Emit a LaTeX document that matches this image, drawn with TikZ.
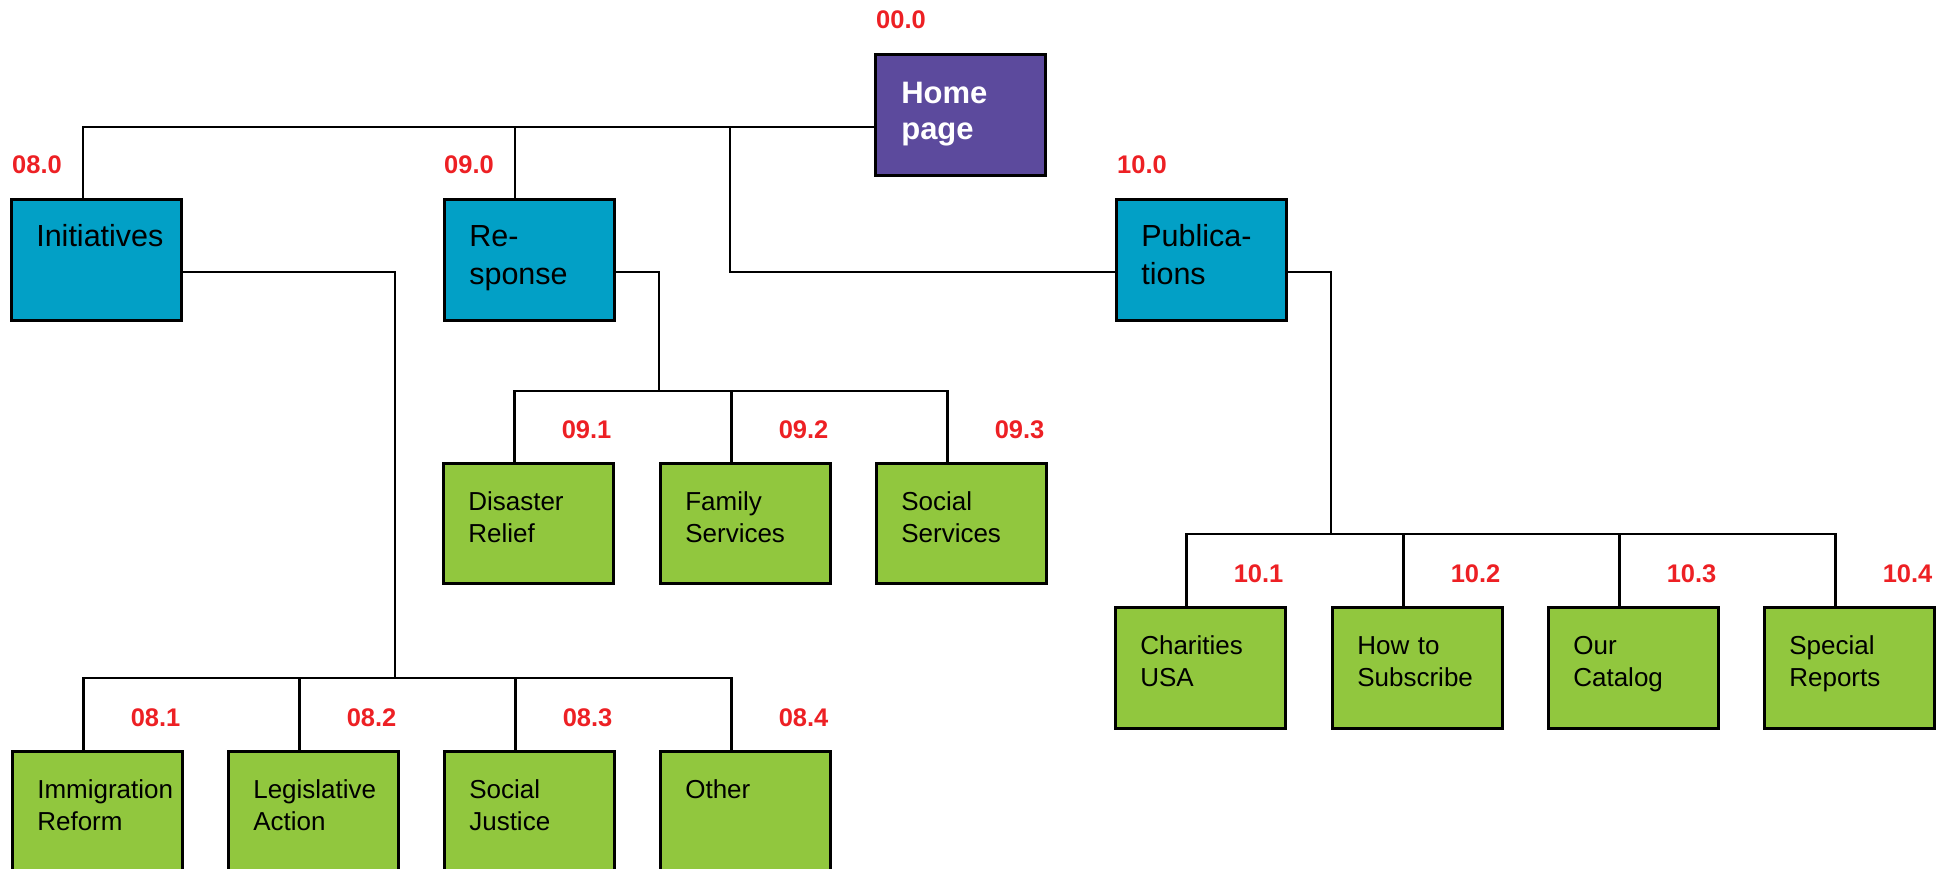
\documentclass[tikz,border=0pt]{standalone}
\usepackage{fontspec}
\setmainfont{Liberation Sans}
\definecolor{homepurple}{RGB}{92,74,157}
\definecolor{secblue}{RGB}{2,160,198}
\definecolor{pagegreen}{RGB}{145,199,62}
\definecolor{numred}{RGB}{237,32,36}
\begin{document}
\begin{tikzpicture}[x=1pt,y=-1pt,
  box/.style={draw=black, line width=2.6pt, rectangle, anchor=north west,
    minimum width=170pt, inner xsep=25pt, inner ysep=0pt, text width=120pt,
    align=left, text height=47pt, text depth=74pt},
  homebox/.style={box, fill=homepurple, text=white, inner xsep=26pt, text width=118pt,
    text height=49pt, text depth=72pt,
    font=\bfseries\fontsize{31}{36}\selectfont},
  secbox/.style={box, fill=secblue, font=\fontsize{30.5}{38.5}\selectfont},
  pagebox/.style={box, fill=pagegreen, font=\fontsize{26}{32}\selectfont},
  num/.style={text=numred, inner sep=0pt, font=\bfseries\fontsize{25.5}{30}\selectfont},
  link/.style={draw=black, line width=2.3pt}
]
\clip (0,0) rectangle (1948,869);

% top level
\node[homebox] (home) at (874,53) {Home\\page};

% sections
\node[secbox] (init) at (10,198) {Initiatives};
\node[secbox] (resp) at (443,198) {Re-\\sponse};
\node[secbox] (pub) at (1115,198) {Publica-\\tions};

% pages under Response
\node[pagebox, text depth=73pt] (r1) at (442,462) {Disaster\\Relief};
\node[pagebox, text depth=73pt] (r2) at (659,462) {Family\\Services};
\node[pagebox, text depth=73pt] (r3) at (875,462) {Social\\Services};

% pages under Publications
\node[pagebox] (p1) at (1114,606) {Charities\\USA};
\node[pagebox] (p2) at (1331,606) {How to\\Subscribe};
\node[pagebox] (p3) at (1547,606) {Our\\Catalog};
\node[pagebox] (p4) at (1763,606) {Special\\Reports};

% pages under Initiatives
\node[pagebox] (i1) at (11,750) {Immigration\\Reform};
\node[pagebox] (i2) at (227,750) {Legislative\\Action};
\node[pagebox] (i3) at (443,750) {Social\\Justice};
\node[pagebox] (i4) at (659,750) {Other};

% page numbers
\node[num, anchor=base west] (nhome) at ([shift={(2,-24)}]home.north west) {00.0};
\node[num, anchor=base west] (ninit) at ([shift={(2,-24)}]init.north west) {08.0};
\node[num, anchor=base west] (nresp) at ([shift={(1,-24)}]resp.north west) {09.0};
\node[num, anchor=base west] (npub) at ([shift={(2,-24)}]pub.north west) {10.0};
\foreach \b/\t in {r1/09.1, r2/09.2, r3/09.3, p1/10.1, p2/10.2, p3/10.3, p4/10.4,
                   i1/08.1, i2/08.2, i3/08.3, i4/08.4}
  \node[num, anchor=base east] (n\b) at ([shift={(-3,-24)}]\b.north east) {\t};

% joints of the connector buses
\coordinate (topbus) at (730,127);
\coordinate (initbus) at (395,678);
\coordinate (respbus) at (659,391);
\coordinate (pubbus) at (1331,534);

% home page to sections
\draw[link] (home.west |- topbus) -| ([xshift=73pt]init.north west);
\draw[link] ([xshift=72pt]resp.north west) |- (topbus);
\draw[link] ([yshift=-12pt]pub.west) -| (topbus);

% sections to pages
\draw[link] ([yshift=-12pt]init.east) -| (initbus);
\foreach \b in {i1,i2,i3,i4}
  \draw[link] ([xshift=72.5pt]\b.north west) |- (initbus);

\draw[link] ([yshift=-12pt]resp.east) -| (respbus);
\foreach \b in {r1,r2,r3}
  \draw[link] ([xshift=72.5pt]\b.north west) |- (respbus);

\draw[link] ([yshift=-12pt]pub.east) -| (pubbus);
\foreach \b in {p1,p2,p3,p4}
  \draw[link] ([xshift=72.5pt]\b.north west) |- (pubbus);
\end{tikzpicture}
\end{document}
